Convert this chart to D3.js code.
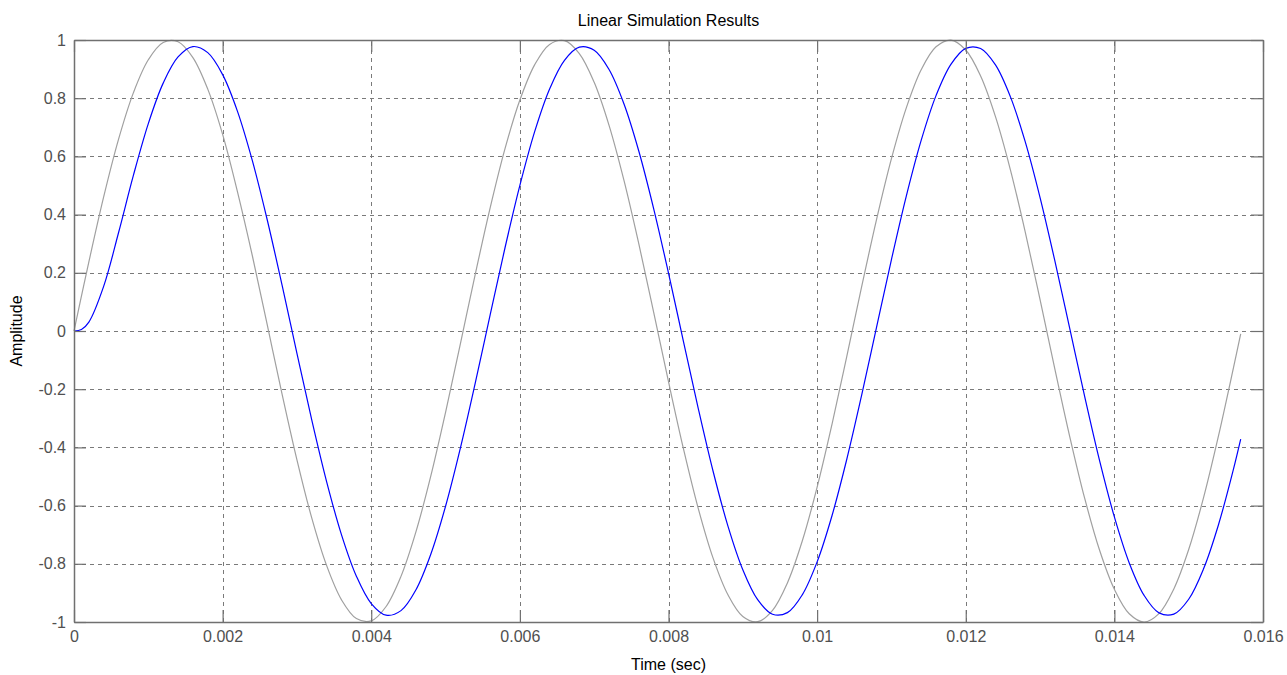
<!DOCTYPE html>
<html>
<head>
<meta charset="utf-8">
<script src="https://cdn.jsdelivr.net/npm/d3@7"></script>
<style>
  html, body { margin: 0; padding: 0; background: #ffffff; }
  svg { display: block; }
</style>
</head>
<body>
<svg id="chart" width="1287" height="675"></svg>
<script>
// ---- data ----
const timeSec = [0, 0.0001, 0.0002, 0.0004, 0.0006, 0.0008, 0.0010, 0.0012, 0.0014, 0.0016, 0.0018,
  0.0020, 0.0022, 0.0024, 0.0026, 0.0028, 0.0030, 0.0032, 0.0034, 0.0036, 0.0038,
  0.0040, 0.0042, 0.0044, 0.0046, 0.0048, 0.0050, 0.0052, 0.0054, 0.0056, 0.0058,
  0.0060, 0.0062, 0.0064, 0.0066, 0.0068, 0.0070, 0.0072, 0.0074, 0.0076, 0.0078,
  0.0080, 0.0082, 0.0084, 0.0086, 0.0088, 0.0090, 0.0092, 0.0094, 0.0096, 0.0098,
  0.0100, 0.0102, 0.0104, 0.0106, 0.0108, 0.0110, 0.0112, 0.0114, 0.0116, 0.0118,
  0.0120, 0.0122, 0.0124, 0.0126, 0.0128, 0.0130, 0.0132, 0.0134, 0.0136, 0.0138,
  0.0140, 0.0142, 0.0144, 0.0146, 0.0148, 0.0150, 0.0152, 0.0154, 0.0156, 0.0157];

const inputSignal = [0, 0.1197, 0.2377, 0.4618, 0.6594, 0.8192, 0.9320, 0.9915, 0.9939, 0.9396, 0.8311,
  0.6755, 0.4780, 0.2586, 0.0216, -0.2167, -0.4425, -0.6430, -0.8064, -0.9239, -0.9882,
  -0.9962, -0.9468, -0.8432, -0.6912, -0.4997, -0.2794, -0.0432, 0.1955, 0.4231, 0.6266,
  0.7937, 0.9155, 0.9849, 0.9978, 0.9535, 0.8546, 0.7066, 0.5182, 0.3001, 0.0648,
  -0.1743, -0.4034, -0.6093, -0.7804, -0.9064, -0.9809, -0.9990, -0.9598, -0.8656, -0.7217,
  -0.5366, -0.3206, -0.0863, 0.1530, 0.3836, 0.5921, 0.7666, 0.8975, 0.9766, 0.9997,
  0.9657, 0.8762, 0.7365, 0.5548, 0.3410, 0.1078, -0.1316, -0.3635, -0.5746, -0.7526,
  -0.8877, -0.9717, -1.0000, -0.9711, -0.8864, -0.7510, -0.5726, -0.3613, -0.1292, -0.0096];

const outputResponse = [0, 0.0050, 0.0306, 0.1541, 0.3385, 0.5355, 0.7128, 0.8518, 0.9419, 0.9775, 0.9565,
  0.8810, 0.7548, 0.5853, 0.3823, 0.1574, -0.0766, -0.3061, -0.5182, -0.7004, -0.8426,
  -0.9365, -0.9766, -0.9609, -0.8900, -0.7680, -0.6022, -0.4017, -0.1782, 0.0555, 0.2861,
  0.5001, 0.6858, 0.8317, 0.9302, 0.9754, 0.9646, 0.8985, 0.7809, 0.6186, 0.4208,
  0.1989, -0.0344, -0.2657, -0.4820, -0.6704, -0.8204, -0.9234, -0.9735, -0.9678, -0.9066,
  -0.7934, -0.6348, -0.4398, -0.2196, 0.0133, 0.2454, 0.4635, 0.6549, 0.8088, 0.9162,
  0.9713, 0.9707, 0.9143, 0.8054, 0.6507, 0.4585, 0.2401, 0.0078, -0.2248, -0.4447,
  -0.6390, -0.7971, -0.9087, -0.9686, -0.9730, -0.9218, -0.8173, -0.6665, -0.4771, -0.3714];

const xTickValues = [0, 0.002, 0.004, 0.006, 0.008, 0.01, 0.012, 0.014, 0.016];
const xTickLabels = ["0", "0.002", "0.004", "0.006", "0.008", "0.01", "0.012", "0.014", "0.016"];
const yTickValues = [-1, -0.8, -0.6, -0.4, -0.2, 0, 0.2, 0.4, 0.6, 0.8, 1];
const yTickLabels = ["-1", "-0.8", "-0.6", "-0.4", "-0.2", "0", "0.2", "0.4", "0.6", "0.8", "1"];

const titleText = "Linear Simulation Results";
const xLabelText = "Time (sec)";
const yLabelText = "Amplitude";

// ---- layout ----
const plotLeft = 74, plotRight = 1263, plotTop = 40, plotBottom = 622;
const W = plotRight - plotLeft, H = plotBottom - plotTop;
const FONT = "'Liberation Sans', Arial, sans-serif";
const axisColor = "#707070";
const gridColor = "#7a7a7a";
const labelColor = "#505050";

const svg = d3.select("#chart");
const x = d3.scaleLinear().domain([0, 0.016]).range([plotLeft, plotRight]);
const y = d3.scaleLinear().domain([-1, 1]).range([plotBottom, plotTop]);

// grid
const gx = svg.append("g").attr("transform", `translate(0,${plotBottom})`)
  .call(d3.axisBottom(x).tickValues(xTickValues).tickSize(-H).tickFormat(""));
gx.select(".domain").remove();
gx.selectAll("line").attr("stroke", gridColor).attr("stroke-width", 1).attr("stroke-dasharray", "4,4").attr("shape-rendering", "crispEdges");

const gy = svg.append("g").attr("transform", `translate(${plotLeft},0)`)
  .call(d3.axisLeft(y).tickValues(yTickValues).tickSize(-W).tickFormat(""));
gy.select(".domain").remove();
gy.selectAll("line").attr("stroke", gridColor).attr("stroke-width", 1).attr("stroke-dasharray", "4,4").attr("shape-rendering", "crispEdges");

// data lines
const pts = (vals) => timeSec.map((t, i) => [t, vals[i]]);
const line = d3.line().x(d => x(d[0])).y(d => y(d[1])).curve(d3.curveCatmullRom.alpha(0.5));

svg.append("path").datum(pts(inputSignal))
  .attr("d", line).attr("fill", "none").attr("stroke", "#a0a0a0").attr("stroke-width", 1.2);
svg.append("path").datum(pts(outputResponse))
  .attr("d", line).attr("fill", "none").attr("stroke", "#0000ff").attr("stroke-width", 1.2);

// axes with inward ticks on all four sides
function styleAxis(g) {
  g.select(".domain").attr("stroke", axisColor).attr("stroke-width", 1.5);
  g.selectAll(".tick line").attr("stroke", axisColor).attr("stroke-width", 1.2);
  g.selectAll("text").attr("fill", labelColor).style("font-family", FONT).style("font-size", "16px");
}

const axB = svg.append("g").attr("transform", `translate(0,${plotBottom})`)
  .call(d3.axisBottom(x).tickValues(xTickValues).tickSizeInner(-12).tickSizeOuter(0).tickPadding(9)
    .tickFormat((d, i) => xTickLabels[i]));
styleAxis(axB);

const axT = svg.append("g").attr("transform", `translate(0,${plotTop})`)
  .call(d3.axisTop(x).tickValues(xTickValues).tickSizeInner(-12).tickSizeOuter(0).tickFormat(""));
styleAxis(axT);

const axL = svg.append("g").attr("transform", `translate(${plotLeft},0)`)
  .call(d3.axisLeft(y).tickValues(yTickValues).tickSizeInner(-12).tickSizeOuter(0).tickPadding(8)
    .tickFormat((d, i) => yTickLabels[i]));
styleAxis(axL);

const axR = svg.append("g").attr("transform", `translate(${plotRight},0)`)
  .call(d3.axisRight(y).tickValues(yTickValues).tickSizeInner(-12).tickSizeOuter(0).tickFormat(""));
styleAxis(axR);

// titles
svg.append("text").attr("x", (plotLeft + plotRight) / 2).attr("y", 26)
  .attr("text-anchor", "middle").style("font-family", FONT).style("font-size", "16px")
  .attr("fill", "#000").text(titleText);

svg.append("text").attr("x", (plotLeft + plotRight) / 2).attr("y", 670)
  .attr("text-anchor", "middle").style("font-family", FONT).style("font-size", "16px")
  .attr("fill", "#000").text(xLabelText);

svg.append("text").attr("transform", `translate(22,${(plotTop + plotBottom) / 2}) rotate(-90)`)
  .attr("text-anchor", "middle").style("font-family", FONT).style("font-size", "16px")
  .attr("fill", "#000").text(yLabelText);
</script>
</body>
</html>
